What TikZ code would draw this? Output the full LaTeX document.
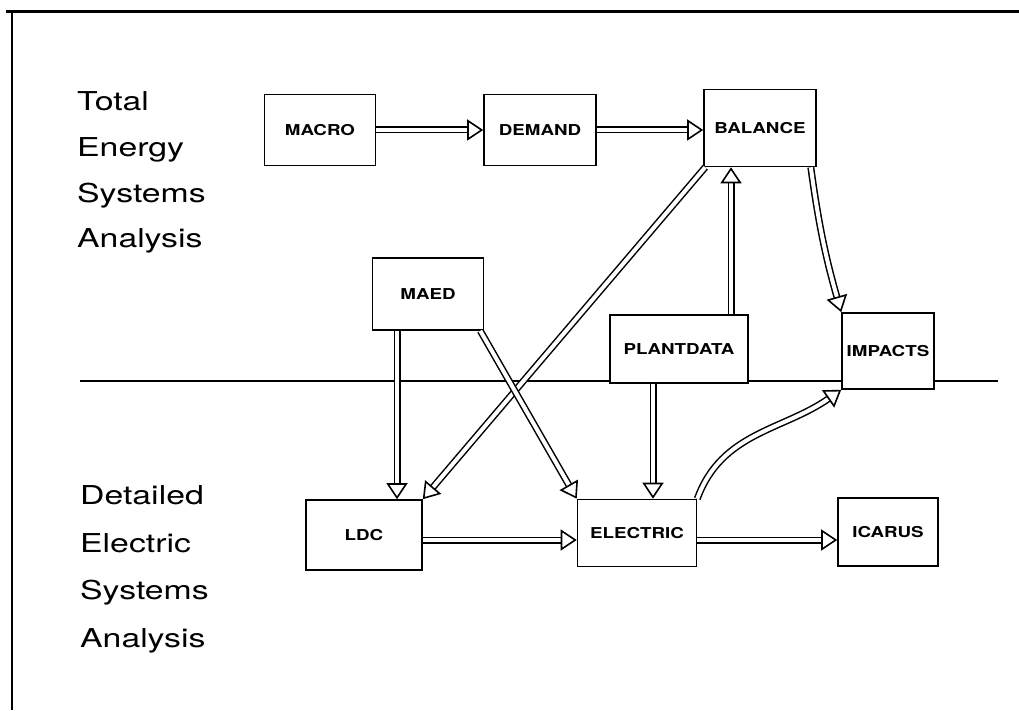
\documentclass[tikz,border=0pt]{standalone}
\usepackage{fontspec}
\setmainfont{TeX Gyre Heros}
\newfontfamily\boxfont[FakeStretch=1.25]{TeX Gyre Heros}
\newfontfamily\sidefont[FakeStretch=1.3]{TeX Gyre Heros}
\usepackage{tikz}
\usetikzlibrary{arrows.meta}

\tikzset{
  module/.style={draw,line width=1.6pt,fill=white,inner sep=0pt,font=\boxfont\bfseries\fontsize{15}{18}\selectfont},
  flow/.style={double,double distance=4pt,line width=1.5pt,-{Triangle[open,length=16pt,width=21pt,line width=1.6pt]}},
  sidelabel/.style={anchor=base west,align=left,inner sep=0pt,font=\sidefont\fontsize{26}{45.7}\selectfont},
}

\begin{document}
\begin{tikzpicture}[x=1pt,y=1pt]
  \useasboundingbox (0,0) rectangle (1019,710);
  % frame (only top and left edges show)
  \draw[line width=3pt] (6,698) -- (1019,698);
  \draw[line width=2pt] (12,698) -- (12,0);

  % divider between the two levels
  \draw[line width=1.5pt] (80,329) -- (998,329);

  % base anchor sits on the last line
  \node[sidelabel] (tesa) at (77,462) {Total\\Energy\\Systems\\Analysis};
  \node[sidelabel,font=\sidefont\fontsize{26}{47.5}\selectfont] (desa) at (80,63) {Detailed\\Electric\\Systems\\Analysis};

  \node[module,minimum width=111pt,minimum height=71pt] (macro) at (320,580) {MACRO};
  \node[module,minimum width=112pt,minimum height=71pt] (demand) at (540,580) {DEMAND};
  \node[module,minimum width=112pt,minimum height=77pt] (balance) at (760,582) {BALANCE};
  \node[module,minimum width=111pt,minimum height=72pt] (maed) at (428,416) {MAED};
  \node[module,minimum width=138pt,minimum height=68pt] (plantdata) at (679,361) {PLANTDATA};
  \node[module,minimum width=92pt,minimum height=76pt] (impacts) at (888,359) {IMPACTS};
  \node[module,minimum width=116pt,minimum height=70pt] (ldc) at (364,175) {LDC};
  \node[module,minimum width=119pt,minimum height=67pt] (electric) at (637,177) {ELECTRIC};
  \node[module,minimum width=100pt,minimum height=68pt] (icarus) at (888,178) {ICARUS};

  \draw[flow] (macro.east) -- (demand.west);
  \draw[flow] (demand.east) -- (demand.east -| balance.west);
  \draw[flow] ([xshift=2pt]balance.south west) -- (ldc.north east);
  \draw[flow] ([xshift=52pt]plantdata.north) -- ([xshift=52pt]plantdata.north |- balance.south);
  \draw[flow] ([xshift=-6pt]balance.south east) to[bend right=4] (impacts.north west);
  \draw[flow] ([xshift=-31pt]maed.south) -- ([xshift=-31pt]maed.south |- ldc.north);
  \draw[flow] ([xshift=-4pt]maed.south east) -- (electric.north west);
  \draw[flow] ([xshift=-26pt]plantdata.south) -- ([xshift=-26pt]plantdata.south |- electric.north);
  \draw[flow] (electric.north east) to[out=70,in=215] (impacts.south west);
  \draw[flow] ([yshift=-5pt]ldc.east) -- ([yshift=-5pt]ldc.east -| electric.west);
  \draw[flow] ([yshift=-7pt]electric.east) -- ([yshift=-7pt]electric.east -| icarus.west);
\end{tikzpicture}
\end{document}
